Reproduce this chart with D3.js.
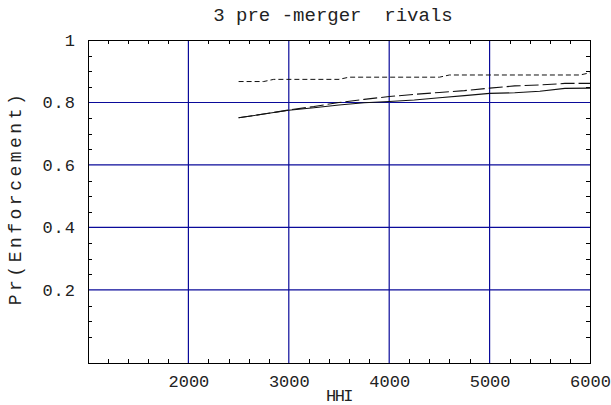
<!DOCTYPE html>
<html>
<head>
<meta charset="utf-8">
<script src="https://cdn.jsdelivr.net/npm/d3@7"></script>
<style>
  body { margin: 0; background: #fff; }
  text { font-family: "Liberation Mono", "DejaVu Sans Mono", monospace; fill: #222; }
</style>
</head>
<body>
<div id="chart"></div>
<script>
'use strict';

// values
const hhiTicks = [2000, 3000, 4000, 5000, 6000];
const prTicks = [0.2, 0.4, 0.6, 0.8, 1];

// short dashed series (step-like)
const dashHHI = [2500, 2750, 2850, 3500, 3600, 4500, 4600, 5900, 6000];
const dashPr = [0.867, 0.867, 0.874, 0.874, 0.881, 0.881, 0.888, 0.888, 0.895];

// long dashed and solid series
const hhi = [2500, 2750, 3000, 3250, 3500, 3750, 4000, 4250, 4500, 4750, 5000, 5250, 5500, 5750, 6000];
const longDashPr = [0.751, 0.763, 0.776, 0.787, 0.800, 0.810, 0.819, 0.826, 0.832, 0.838, 0.846, 0.853, 0.856, 0.861, 0.861];
const solidPr = [0.751, 0.763, 0.775, 0.783, 0.792, 0.799, 0.803, 0.808, 0.815, 0.822, 0.829, 0.831, 0.836, 0.845, 0.846];

function makeChart() {
  var width = 611;
  var height = 405;
  var margin = { top: 40, right: 21, bottom: 42, left: 88 };
  var w = width - margin.left - margin.right;
  var h = height - margin.top - margin.bottom;

  var svg = d3.select('#chart')
              .append('svg')
              .attr('width', width)
              .attr('height', height);

  var g = svg.append('g')
             .attr('transform', 'translate(' + margin.left + ',' + margin.top + ')');

  var x = d3.scaleLinear().domain([1000, 6000]).range([0, w]);
  var y = d3.scaleLinear().domain([-0.034, 1]).range([h, 0]);

  var gridColour = '#0a0a9a';

  // grid lines
  g.append('g')
   .selectAll('line')
   .data(hhiTicks.slice(0, -1))
   .enter()
   .append('line')
   .attr('x1', function(d) { return x(d); })
   .attr('x2', function(d) { return x(d); })
   .attr('y1', 0)
   .attr('y2', h)
   .attr('stroke', gridColour)
   .attr('stroke-width', 1.2);

  g.append('g')
   .selectAll('line')
   .data(prTicks.slice(0, -1))
   .enter()
   .append('line')
   .attr('x1', 0)
   .attr('x2', w)
   .attr('y1', function(d) { return y(d); })
   .attr('y2', function(d) { return y(d); })
   .attr('stroke', gridColour)
   .attr('stroke-width', 1.2);

  // minor ticks, pointing inward on all four sides
  var minorX = d3.range(1200, 6000, 200).filter(function(d) { return d % 1000 !== 0; });
  var minorY = d3.range(1, 20).map(function(i) { return i * 0.05; }).filter(function(d, i) { return (i + 1) % 4 !== 0; });

  function styleAxis(sel) {
    sel.select('.domain').remove();
    sel.selectAll('.tick line').attr('stroke', '#000').attr('shape-rendering', 'crispEdges');
  }

  g.append('g').attr('transform', 'translate(0,' + h + ')')
   .call(d3.axisBottom(x).tickValues(minorX).tickSize(-4).tickFormat(''))
   .call(styleAxis);
  g.append('g')
   .call(d3.axisTop(x).tickValues(minorX).tickSize(-4).tickFormat(''))
   .call(styleAxis);
  g.append('g')
   .call(d3.axisLeft(y).tickValues(minorY).tickSize(-4).tickFormat(''))
   .call(styleAxis);
  g.append('g').attr('transform', 'translate(' + w + ',0)')
   .call(d3.axisRight(y).tickValues(minorY).tickSize(-4).tickFormat(''))
   .call(styleAxis);

  // major tick labels
  var xAxis = g.append('g').attr('transform', 'translate(0,' + h + ')')
               .call(d3.axisBottom(x).tickValues(hhiTicks).tickSize(0).tickPadding(9).tickFormat(d3.format('d')));
  xAxis.select('.domain').remove();
  xAxis.selectAll('text').style('font-size', '17px').attr('dy', '0.9em');

  var yAxis = g.append('g')
               .call(d3.axisLeft(y).tickValues(prTicks).tickSize(0).tickPadding(12)
                     .tickFormat(function(d) { return d === 1 ? '1' : d3.format('.1f')(d); }));
  yAxis.select('.domain').remove();
  yAxis.selectAll('text').style('font-size', '17px').style('letter-spacing', '1px');

  // frame
  g.append('rect')
   .attr('x', 0.5)
   .attr('y', 0.5)
   .attr('width', w)
   .attr('height', h)
   .attr('fill', 'none')
   .attr('stroke', '#000')
   .attr('stroke-width', 1);

  // series
  var line = d3.line()
               .x(function(d) { return x(d[0]); })
               .y(function(d) { return y(d[1]); });

  g.append('path')
   .attr('d', line(d3.zip(hhi, solidPr)))
   .attr('fill', 'none')
   .attr('stroke', '#111')
   .attr('stroke-width', 1.1);

  g.append('path')
   .attr('d', line(d3.zip(hhi, longDashPr)))
   .attr('fill', 'none')
   .attr('stroke', '#111')
   .attr('stroke-width', 1.1)
   .attr('stroke-dasharray', '14,4');

  g.append('path')
   .attr('d', line(d3.zip(dashHHI, dashPr)))
   .attr('fill', 'none')
   .attr('stroke', '#111')
   .attr('stroke-width', 1)
   .attr('stroke-dasharray', '5,3');

  // titles
  svg.append('text')
     .attr('x', 333)
     .attr('y', 21)
     .attr('text-anchor', 'middle')
     .attr('xml:space', 'preserve')
     .style('font-size', '19px')
     .text('3 pre -merger  rivals');

  svg.append('text')
     .attr('x', margin.left + w / 2)
     .attr('y', 401)
     .attr('text-anchor', 'middle')
     .style('font-size', '17px')
     .style('letter-spacing', '-1.5px')
     .text('HHI');

  svg.append('text')
     .attr('transform', 'translate(21,' + 198 + ') rotate(-90)')
     .attr('text-anchor', 'middle')
     .attr('xml:space', 'preserve')
     .style('font-size', '18px')
     .style('letter-spacing', '3.5px')
     .text('Pr(Enforcement)');
}

makeChart();
</script>
</body>
</html>
